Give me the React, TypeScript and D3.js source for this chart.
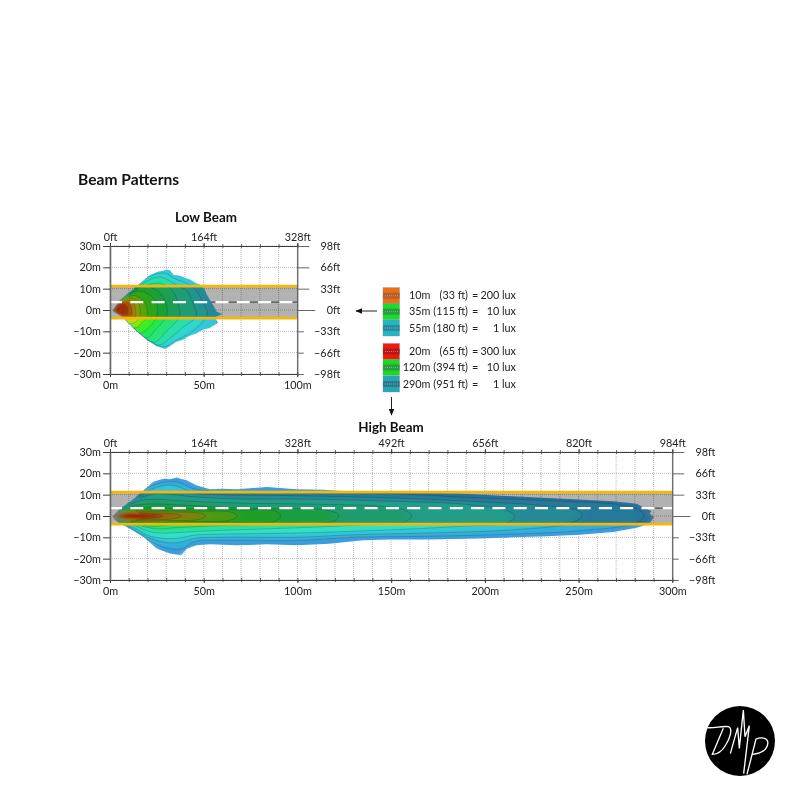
import React, { useRef, useEffect } from 'react';
import * as d3 from 'd3';

type Pt = [number, number];

const FONT = 'Lato, "Open Sans", sans-serif';

const yTicks = [30, 20, 10, 0, -10, -20, -30];
const ftLabels = ['98ft', '66ft', '33ft', '0ft', '\u221233ft', '\u221266ft', '\u221298ft'];
const lowFtLabels = ['0ft', '164ft', '328ft'];
const highFtLabels = ['0ft', '164ft', '328ft', '492ft', '656ft', '820ft', '984ft'];
const lowMajor = [0, 50, 100];
const highMajor = [0, 50, 100, 150, 200, 250, 300];
const lowMinor = [0, 10, 20, 30, 40, 50, 60, 70, 80, 90, 100];
const highMinor = [0, 10, 20, 30, 40, 50, 60, 70, 80, 90, 100, 110, 120, 130, 140, 150, 160, 170, 180, 190, 200, 210, 220, 230, 240, 250, 260, 270, 280, 290, 300];

const roadTop = 11.2;
const roadBottom = -3.8;
const centreLine = 3.7;

// beam outlines, metres
const lowOutline: Pt[] = [[1.5, 0], [5.3, 4.7], [13.3, 10.6], [21.4, 16.4], [25.8, 18], [28, 18.3], [30, 19], [32, 18.6], [34, 16.4], [37, 16.2], [41, 14.8], [43, 14.2], [46, 12.5], [48, 12], [50.7, 9.4], [51.5, 7.5], [53.4, 4.7], [55, 2.4], [57, -0.8], [60, -1.9], [56, -3.4], [57.8, -6], [53, -8.6], [50, -9], [46, -11], [42, -12.3], [39, -14], [35, -15], [32, -17], [29.4, -18.3], [25, -17], [19.6, -14], [12.5, -8.6], [6.2, -3.1], [1.8, -0.8]];
const lowContours: Pt[][] = [
  [[1.6, 0], [5.3, 4.6], [13, 10.3], [21.5, 15.8], [29, 17.3], [35, 14.5], [41, 12.5], [46, 9], [50, 3], [52, -1.5], [50, -5], [44, -10], [36, -14], [30, -17], [27, -17], [19.8, -13.8], [12.7, -8.5], [6.2, -3], [2, -0.8]],
  [[1.6, 0], [5.2, 4.5], [13, 10], [22, 14.5], [26, 15.5], [30, 14.5], [36, 11.5], [41, 9], [44, 4], [46, -3], [39, -8], [31, -14], [26, -16.5], [19.6, -13.8], [12.7, -8.5], [6.2, -3], [2, -0.8]],
  [[1.6, 0], [5.2, 4.4], [13, 9.7], [22, 12.2], [27, 12.5], [33, 9.5], [36, 4], [37, -3], [30, -10], [24, -15], [19, -13.5], [12.6, -8.5], [6.1, -3], [2, -0.8]],
  [[1.6, 0], [5.2, 4.4], [10, 7.4], [14, 9.5], [17, 11.5], [21, 10.8], [26.7, 8], [30, 3], [30, -3], [24, -9.5], [20, -13], [14, -9.8], [9, -5.8], [6, -3], [2, -0.8]],
  [[1.6, 0], [5.2, 4.3], [10, 7], [15, 9], [20.5, 7.5], [25, 3], [25, -3], [21, -8], [16, -11], [12, -8.2], [8.5, -5.4], [5.5, -2.8], [2, -0.8]],
  [[1.6, 0], [5.1, 4.2], [10, 6.3], [13, 6.8], [15, 6.3], [19, 3], [20, -3], [17, -6], [14, -8.5], [10, -6.5], [8, -4.5], [5.5, -2.7], [2, -0.8]],
  [[1.6, 0], [5, 4], [10, 5.6], [13, 5], [15.5, 3], [16, -3], [14, -5.5], [11, -6.5], [8, -4.4], [5.2, -2.5], [3, -1.2]],
  [[1.7, 0], [5, 3.8], [9, 4.8], [12.5, 3.5], [13.5, -3], [11, -4.3], [8, -3.8], [3, -1.2]],
  [[1.8, 0], [4.5, 3.4], [8, 3.9], [11, 2], [11.5, -2.5], [7, -3.2], [3, -1.1]],
  [[1.8, 0], [4, 2.8], [7, 3], [9, 1.5], [9, -2], [6, -2.7], [3, -1.1]],
];
const lowColors = ['#34c6da', '#2fd6cc', '#2cdfa6', '#28e478', '#22e848', '#3cee20', '#84ea10', '#c8dc10', '#f0a010', '#ee6a10', '#e63a10'];

const highOutline: Pt[] = [[1.5, 0], [5.3, 3.4], [12.5, 8], [17.8, 12], [23, 16], [28.5, 17.5], [32, 17.2], [35.6, 18], [38, 17.4], [41, 16.7], [46, 14.4], [53.4, 12.5], [60, 12.8], [67.6, 12.5], [83.6, 13.6], [99.6, 12.5], [114, 12.3], [126, 11.6], [150, 11.2], [186.7, 10.5], [215, 9.2], [242, 8.1], [268.5, 6.9], [281, 5.8], [286, 3.4], [289, 2.3], [288, 1.2], [290.2, -0.5], [288, -3.6], [281, -5.5], [268.5, -7.5], [250.7, -8.75], [233, -9.5], [215, -10], [197.3, -10.6], [170.6, -11], [149, -11], [135, -11.4], [117, -13], [99.6, -13.75], [83.6, -13.3], [67.6, -13.75], [53.4, -13.3], [46, -13.75], [41, -15.3], [38, -18.4], [32, -17.6], [25, -15.3], [17.8, -9.8], [10.7, -6], [5.3, -3.6], [1.8, -1.2]];
const highContours: Pt[][] = [
  [[2, 0], [6, 3.8], [14, 9], [22, 14], [30, 16], [36, 16], [44, 13], [55, 11.5], [100, 11], [150, 10.5], [190, 8.8], [240, 7], [270, 5.5], [282, 3], [285, 0], [280, -3.5], [250, -7], [215, -8.5], [170, -9.5], [130, -10], [100, -11.5], [60, -11.5], [45, -12], [38, -15.5], [30, -15], [24, -13], [16, -8.5], [9, -5], [6, -3.7], [2, -1]],
  [[2, 0], [6, 3.6], [15, 9], [22, 12.5], [30, 14.5], [36, 14], [44, 11], [60, 10], [100, 9.5], [150, 8.5], [190, 7], [230, 5], [250, 2.5], [252, 0], [245, -3.5], [215, -6.5], [170, -8], [130, -8.8], [100, -10], [60, -10], [45, -10.5], [37, -12.5], [30, -12.5], [23, -11], [15, -7.5], [9, -4.3], [6, -3.5], [2, -1]],
  [[2, 0], [6, 3.4], [16, 8.5], [24, 10.5], [34, 10], [45, 9], [70, 8], [100, 8], [150, 7], [190, 5.5], [212, 2.5], [216, 0], [213, -3], [190, -4.7], [150, -6.5], [100, -8], [60, -8.5], [45, -9], [36, -10.5], [28, -10.5], [20, -9], [14, -6], [8, -3.8], [6, -3.3], [2, -1]],
  [[2, 0], [6, 3.2], [10, 5.2], [16, 7.2], [25, 7.8], [40, 7], [70, 6], [110, 5.5], [145, 4.5], [158, 2.5], [161, 0], [158, -2.5], [130, -4.3], [100, -5.5], [60, -6.7], [40, -7.5], [30, -8], [22, -7.5], [14, -4.8], [9, -3.3], [6, -3], [2, -1]],
  [[2, 0], [6, 3], [11, 4.6], [18, 5.5], [30, 5.5], [60, 4], [90, 3.3], [115, 2.8], [122, 0.5], [120, -2.2], [90, -3.5], [60, -4.4], [35, -5.5], [25, -6], [16, -4.5], [10, -3], [6, -2.8], [2, -1]],
  [[2.5, 0], [6, 2.7], [12, 3.6], [20, 3.8], [40, 3.3], [70, 2.8], [88, 2.4], [91, 0], [88, -2.4], [60, -3], [35, -3.8], [22, -4.8], [15, -3.8], [11, -2.8], [6, -2.5], [2.5, -1]],
  [[2.5, 0], [6, 2.4], [13, 2.9], [22, 2.8], [45, 2.3], [64, 1.9], [68, 0], [64, -2], [40, -2.6], [25, -3.2], [15, -3], [11, -2.3], [6, -2.2], [2.5, -1]],
  [[3, 0], [6, 2], [14, 2.2], [25, 2], [45, 1.6], [50, 0.8], [51, 0], [48, -1.5], [30, -2.2], [18, -2.4], [13, -2], [6, -1.9], [3, -0.8]],
  [[3, 0], [7, 1.6], [15, 1.6], [30, 1.2], [37, 0.6], [38, 0], [34, -1.2], [20, -1.8], [14, -1.7], [7, -1.5], [3, -0.6]],
  [[3.5, 0], [8, 1.2], [16, 1], [26, 0.7], [28, 0], [24, -0.9], [16, -1.3], [8, -1.1], [3.5, -0.4]],
];
const highColors = ['#3c9cdc', '#36aedc', '#34c6d6', '#32e0c4', '#2ce09c', '#26e25c', '#2ce430', '#70dc18', '#b8b810', '#e08c10', '#e85010'];
// red core of the high beam sits on top of the last band
const highCore: Pt[] = [[4, 0], [9, 1], [16, 0.8], [24, 0.4], [26, 0], [22, -0.6], [14, -1], [8, -0.8]];

const legendRows = [
  ['10m', '(33 ft)', '200 lux'],
  ['35m', '(115 ft)', '10 lux'],
  ['55m', '(180 ft)', '1 lux'],
  ['20m', '(65 ft)', '300 lux'],
  ['120m', '(394 ft)', '10 lux'],
  ['290m', '(951 ft)', '1 lux'],
];
const legendFill = ['#f06c10', '#14e02c', '#20b8c8', '#f41808', '#14dc24', '#1fa8bc'];
const legendMid = ['#b4602c', '#2a9c3a', '#2a8a9c', '#b41818', '#2a9c3a', '#2a7a8c'];

interface PlotSpec {
  id: string;
  left: number;
  right: number;
  top: number;
  bottom: number;
  xMax: number;
  major: number[];
  minor: number[];
  ftTop: string[];
  outline: Pt[];
  contours: Pt[][];
  colors: string[];
  blur: string;
  core?: Pt[];
}

const drawPlot = (svg: d3.Selection<SVGSVGElement, unknown, null, undefined>, p: PlotSpec) => {
  const x = d3.scaleLinear().domain([0, p.xMax]).range([p.left, p.right]);
  const y = d3.scaleLinear().domain([-30, 30]).range([p.bottom, p.top]);
  const line = d3.line<Pt>().x(d => x(d[0])).y(d => y(d[1])).curve(d3.curveLinearClosed);
  const openLine = d3.line<Pt>().x(d => x(d[0])).y(d => y(d[1])).curve(d3.curveCatmullRom);

  const g = svg.append('g').attr('font-family', FONT);

  // dotted grid
  g.selectAll('.vgrid').data(p.minor).enter().append('line')
    .attr('x1', d => x(d)).attr('x2', d => x(d)).attr('y1', p.top).attr('y2', p.bottom)
    .attr('stroke', '#a8a8a8').attr('stroke-width', 0.8).attr('stroke-dasharray', '1,1');
  g.selectAll('.hgrid').data(yTicks).enter().append('line')
    .attr('x1', p.left).attr('x2', p.right).attr('y1', d => y(d)).attr('y2', d => y(d))
    .attr('stroke', '#a8a8a8').attr('stroke-width', 0.8).attr('stroke-dasharray', '1,1');

  g.append('line')
    .attr('x1', p.left).attr('x2', p.right).attr('y1', y(centreLine)).attr('y2', y(centreLine))
    .attr('stroke', '#555').attr('stroke-width', 1);

  svg.append('clipPath').attr('id', `clip-${p.id}`).append('path').attr('d', line(p.outline));
  svg.append('filter').attr('id', `soft-${p.id}`)
    .attr('x', '-5%').attr('y', '-15%').attr('width', '110%').attr('height', '130%')
    .append('feGaussianBlur').attr('stdDeviation', p.blur);

  const beam = g.append('g').attr('clip-path', `url(#clip-${p.id})`);
  const fills = beam.append('g').attr('filter', `url(#soft-${p.id})`);
  fills.append('path').attr('d', line(p.outline)).attr('fill', p.colors[0])
    .attr('stroke', p.colors[0]).attr('stroke-width', 6);
  p.contours.forEach((c, i) => {
    fills.append('path').attr('d', line(c)).attr('fill', p.colors[i + 1]);
  });
  if (p.core) fills.append('path').attr('d', line(p.core)).attr('fill', '#e42810');
  // contour lines stop short of the apex, where they would all bunch up
  p.contours.forEach(c => {
    beam.append('path').attr('d', openLine(c.slice(2, -2))).attr('fill', 'none')
      .attr('stroke', '#0b3a30').attr('stroke-opacity', 0.4).attr('stroke-width', 0.6);
  });

  // road band darkens what is under it
  g.append('rect')
    .attr('x', p.left).attr('width', p.right - p.left)
    .attr('y', y(roadTop)).attr('height', y(roadBottom) - y(roadTop))
    .attr('fill', '#b2b2b2').style('mix-blend-mode', 'multiply');

  g.append('line')
    .attr('x1', x(0) - 1).attr('x2', p.right).attr('y1', y(centreLine)).attr('y2', y(centreLine))
    .attr('stroke', '#fff').attr('stroke-width', 2.3).attr('stroke-dasharray', '13,8.3');

  [roadTop, roadBottom].forEach(v => {
    g.append('line')
      .attr('x1', p.left).attr('x2', p.right).attr('y1', y(v)).attr('y2', y(v))
      .attr('stroke', '#f6b70a').attr('stroke-width', 2.6);
  });

  const style = (a: d3.Selection<SVGGElement, unknown, null, undefined>, w: number) => {
    a.selectAll('path,line').attr('stroke', '#3c3c3c').attr('stroke-width', w);
    a.selectAll('text').attr('fill', '#222').attr('font-size', 10.8).attr('font-family', FONT);
  };

  // small ticks either side of top and bottom edges
  const minorTop = g.append('g').attr('transform', `translate(0,${p.top})`)
    .call(d3.axisTop(x).tickValues(p.minor).tickSize(2).tickFormat(() => ''));
  minorTop.selectAll('.tick line').attr('y2', 2).attr('y1', -2);
  style(minorTop, 0.8);
  const minorBottom = g.append('g').attr('transform', `translate(0,${p.bottom})`)
    .call(d3.axisBottom(x).tickValues(p.minor).tickSize(2).tickFormat(() => ''));
  minorBottom.selectAll('.tick line').attr('y2', 2).attr('y1', -2);
  style(minorBottom, 0.8);

  const top = g.append('g').attr('transform', `translate(0,${p.top})`)
    .call(d3.axisTop(x).tickValues(p.major).tickSize(3).tickPadding(2).tickSizeOuter(0)
      .tickFormat((_, i) => p.ftTop[i]));
  style(top, 1);

  const bottom = g.append('g').attr('transform', `translate(0,${p.bottom})`)
    .call(d3.axisBottom(x).tickValues(p.major).tickSize(3).tickPadding(4).tickSizeOuter(0)
      .tickFormat(d => `${d}m`));
  style(bottom, 1);

  const left = g.append('g').attr('transform', `translate(${p.left},0)`)
    .call(d3.axisLeft(y).tickValues(yTicks).tickSize(7).tickPadding(2).tickSizeOuter(0)
      .tickFormat(d => `${+d < 0 ? '\u2212' + Math.abs(+d) : d}m`));
  style(left, 1);
  left.select('.domain').attr('stroke', '#666').attr('stroke-width', 1.6);

  const right = g.append('g').attr('transform', `translate(${p.right},0)`)
    .call(d3.axisRight(y).tickValues(yTicks).tickSize(12).tickSizeOuter(0)
      .tickFormat((_, i) => ftLabels[i]));
  style(right, 1);
  right.selectAll<SVGLineElement, number>('.tick line')
    .attr('x2', d => (d === 0 ? 18 : d < 0 ? 6.5 : 12)).attr('stroke', '#666');
  right.selectAll('.tick text').attr('x', 43).attr('text-anchor', 'end');
};

const App: React.FC = () => {
  const svgRef = useRef<SVGSVGElement | null>(null);

  useEffect(() => {
    if (!svgRef.current) return;
    const svg = d3.select(svgRef.current);
    svg.selectAll('*').remove();

    const defs = svg.append('defs');
    const marker = defs.append('marker').attr('id', 'head')
      .attr('viewBox', '0 0 10 10').attr('refX', 9).attr('refY', 5)
      .attr('markerWidth', 7).attr('markerHeight', 7).attr('orient', 'auto');
    marker.append('path').attr('d', 'M0,1 L10,5 L0,9 Z').attr('fill', '#111');

    drawPlot(svg, {
      id: 'low', left: 110, right: 297.3, top: 246, bottom: 374, xMax: 100,
      major: lowMajor, minor: lowMinor, ftTop: lowFtLabels,
      outline: lowOutline, contours: lowContours, colors: lowColors, blur: '1.8 1.3',
    });
    drawPlot(svg, {
      id: 'high', left: 110, right: 672.3, top: 452, bottom: 580, xMax: 300,
      major: highMajor, minor: highMinor, ftTop: highFtLabels,
      outline: highOutline, contours: highContours, colors: highColors, core: highCore, blur: '5 1.2',
    });

    const text = svg.append('g').attr('font-family', FONT).attr('fill', '#111');
    text.append('text').attr('x', 78).attr('y', 185).attr('font-size', 15.6).attr('font-weight', 700).text('Beam Patterns');
    text.append('text').attr('x', 206).attr('y', 222).attr('text-anchor', 'middle').attr('font-size', 13.4).attr('font-weight', 700).text('Low Beam');
    text.append('text').attr('x', 391).attr('y', 432).attr('text-anchor', 'middle').attr('font-size', 13.4).attr('font-weight', 700).text('High Beam');

    // legend
    const legend = svg.append('g').attr('font-family', FONT);
    const rowY = d3.scaleOrdinal<number, number>().domain(d3.range(6)).range([287.7, 303.7, 320, 343.5, 359.5, 376]);
    legendRows.forEach((row, i) => {
      const top = rowY(i);
      const h = 16;
      legend.append('rect').attr('x', 383).attr('y', top).attr('width', 16.5).attr('height', h)
        .attr('fill', legendFill[i]).attr('stroke', '#888').attr('stroke-width', 0.4);
      legend.append('rect').attr('x', 383).attr('y', top + 5).attr('width', 16.5).attr('height', 6)
        .attr('fill', legendMid[i]);
      legend.append('line').attr('x1', 385).attr('x2', 398).attr('y1', top + 8).attr('y2', top + 8)
        .attr('stroke', '#ccc').attr('stroke-width', 0.5).attr('stroke-dasharray', '1,1');
      const ty = top + 11.5;
      const t = (tx: number, s: string, anchor = 'end') => legend.append('text')
        .attr('x', tx).attr('y', ty).attr('text-anchor', anchor)
        .attr('font-size', 10.8).attr('fill', '#222').text(s);
      t(430.5, row[0]);
      t(468, row[1]);
      t(472, '=', 'start');
      t(516, row[2]);
    });

    svg.append('line').attr('x1', 377).attr('x2', 356).attr('y1', 311).attr('y2', 311)
      .attr('stroke', '#222').attr('stroke-width', 1).attr('marker-end', 'url(#head)');
    svg.append('line').attr('x1', 391.5).attr('x2', 391.5).attr('y1', 397).attr('y2', 415)
      .attr('stroke', '#222').attr('stroke-width', 1).attr('marker-end', 'url(#head)');

    // logo
    const logo = svg.append('g').attr('transform', 'translate(695,695) scale(0.3333)');
    logo.append('circle').attr('cx', 135).attr('cy', 138).attr('r', 105).attr('fill', '#000');
    const mark = logo.append('g').attr('fill', 'none').attr('stroke', '#fff').attr('stroke-width', 4);
    mark.append('path').attr('d', 'M35,98 C60,100 80,92 100,95 C115,100 105,130 92,150 C82,168 70,178 52,178 L85,100');
    mark.append('path').attr('d', 'M106,176 L128,98 L133,160 L145,45 L150,125 L163,92 L146,236');
    mark.append('path').attr('d', 'M156,238 L183,132 C200,125 222,128 218,148 C214,170 190,176 172,178');
  }, []);

  return (
    <svg
      ref={svgRef}
      width={790}
      height={790}
      style={{ position: 'absolute', left: 0, top: 0, background: '#fff' }}
    />
  );
};

export default App;
